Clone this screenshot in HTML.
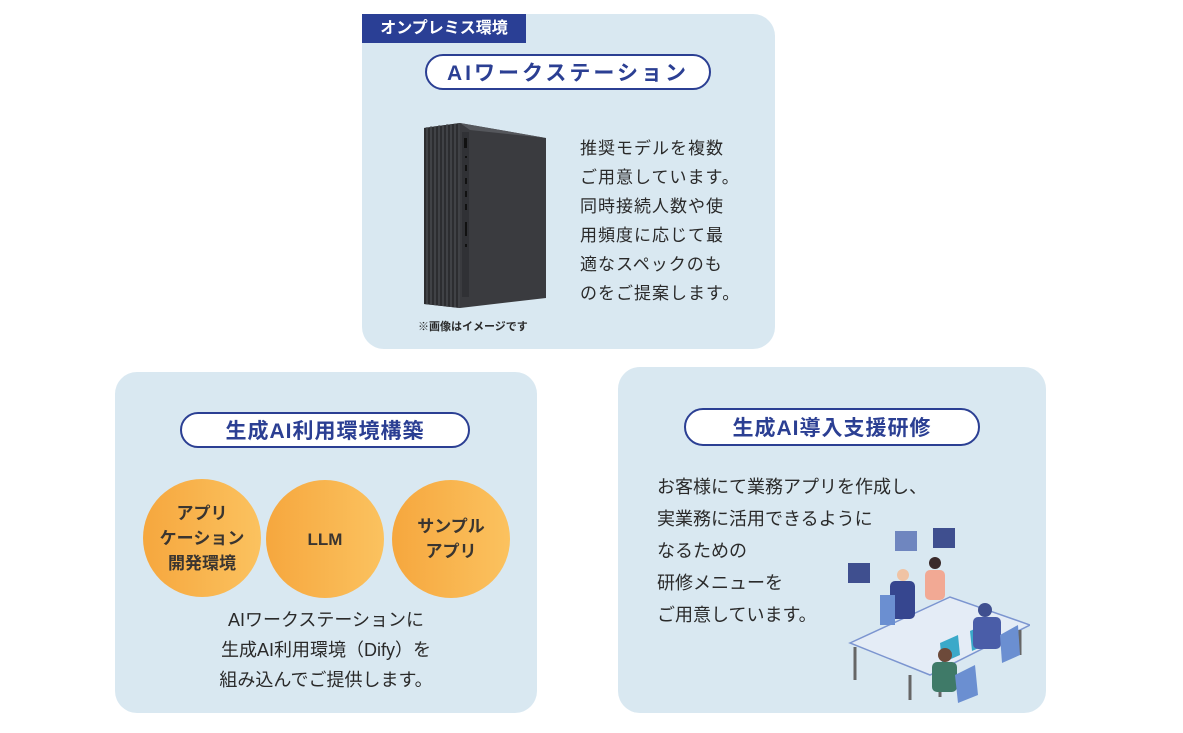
<!DOCTYPE html>
<html><head><meta charset="utf-8"><style>
*{margin:0;padding:0;box-sizing:border-box}
body{width:1183px;height:733px;background:#fff;position:relative;overflow:hidden;font-family:"Liberation Sans","Noto Sans CJK JP",sans-serif;color:#2a2a2a}
.p{position:absolute;background:#d9e8f1;border-radius:22px}
.pill{position:absolute;border:2px solid #2b3f93;background:#fff;border-radius:20px;color:#2b3f93;font-weight:bold;display:flex;align-items:center;justify-content:center;letter-spacing:1px}
.t{position:absolute;white-space:nowrap}
.c{position:absolute;width:118px;height:118px;border-radius:50%;background:linear-gradient(90deg,#f6a73e,#fbc25f);display:flex;align-items:center;justify-content:center;text-align:center;font-weight:bold;font-size:17px;line-height:25px;color:#3a3530}
</style></head><body>
<div class="p" style="left:362px;top:14px;width:413px;height:335px"></div>
<div class="t" style="left:362px;top:14px;width:164px;height:29px;background:#2a3f95;color:#fff;font-weight:bold;font-size:16px;line-height:29px;text-align:center">オンプレミス環境</div>
<div class="pill" style="left:425px;top:54px;width:286px;height:36px;font-size:21px;letter-spacing:3px">AIワークステーション</div>
<svg class="t" style="left:420px;top:120px" width="130" height="192">
<polygon points="4,8 40,3 126,18 126,178 40,188 4,184" fill="#3a3b3f"/>
<polygon points="4,8 40,3 40,188 4,184" fill="#2c2d30"/>
<g stroke="#55575c" stroke-width="1">
<line x1="7" y1="7" x2="7" y2="184"/><line x1="11" y1="6" x2="11" y2="185"/><line x1="15" y1="6" x2="15" y2="185"/><line x1="19" y1="5" x2="19" y2="186"/><line x1="23" y1="5" x2="23" y2="186"/><line x1="27" y1="4" x2="27" y2="187"/><line x1="31" y1="4" x2="31" y2="187"/><line x1="35" y1="4" x2="35" y2="187"/><line x1="39" y1="3" x2="39" y2="188"/></g>
<polygon points="40,3 126,18 50,10" fill="#55575c"/>
<rect x="42" y="12" width="7" height="165" fill="#303135"/>
<g fill="#111"><rect x="44" y="18" width="3" height="10"/><rect x="45" y="36" width="2" height="2"/><rect x="45" y="45" width="2" height="6"/><rect x="45" y="58" width="2" height="6"/><rect x="45" y="71" width="2" height="6"/><rect x="45" y="84" width="2" height="6"/><rect x="45" y="102" width="2" height="14"/><rect x="45" y="124" width="2" height="3"/></g>
</svg>
<div class="t" style="left:418px;top:318px;font-size:11px;font-weight:bold">※画像はイメージです</div>
<div class="t" style="left:580px;top:134px;font-size:17px;line-height:29px;letter-spacing:1px">推奨モデルを複数<br>ご用意しています。<br>同時接続人数や使<br>用頻度に応じて最<br>適なスペックのも<br>のをご提案します。</div>

<div class="p" style="left:115px;top:372px;width:422px;height:341px"></div>
<div class="pill" style="left:180px;top:412px;width:290px;height:36px;font-size:21px">生成AI利用環境構築</div>
<div class="c" style="left:143px;top:479px">アプリ<br>ケーション<br>開発環境</div>
<div class="c" style="left:266px;top:480px">LLM</div>
<div class="c" style="left:392px;top:480px">サンプル<br>アプリ</div>
<div class="t" style="left:115px;width:422px;top:605px;font-size:18px;line-height:30px;text-align:center">AIワークステーションに<br>生成AI利用環境（Dify）を<br>組み込んでご提供します。</div>

<div class="p" style="left:618px;top:367px;width:428px;height:346px"></div>
<div class="pill" style="left:684px;top:408px;width:296px;height:38px;font-size:21px">生成AI導入支援研修</div>
<div class="t" style="left:657px;top:471px;font-size:18px;line-height:32px">お客様にて業務アプリを作成し、<br>実業務に活用できるように<br>なるための<br>研修メニューを<br>ご用意しています。</div>
<svg class="t" style="left:840px;top:525px" width="190" height="180">
<g fill="#3f4f8f"><rect x="8" y="38" width="22" height="20"/><rect x="55" y="6" width="22" height="20" fill="#6f86bf"/><rect x="93" y="3" width="22" height="20"/></g>
<polygon points="10,118 110,72 190,100 90,150" fill="#e4ecf6" stroke="#7c95d0" stroke-width="1.5"/>
<g stroke="#666" stroke-width="3"><line x1="15" y1="122" x2="15" y2="155"/><line x1="70" y1="150" x2="70" y2="175"/><line x1="180" y1="105" x2="180" y2="130"/><line x1="100" y1="148" x2="100" y2="172"/></g>
<circle cx="63" cy="50" r="6" fill="#f0c3a4"/><rect x="50" y="56" width="25" height="38" rx="5" fill="#36468f"/>
<rect x="40" y="70" width="15" height="30" fill="#6b8fd1"/>
<circle cx="95" cy="38" r="6" fill="#3a2a2a"/><rect x="85" y="45" width="20" height="30" rx="5" fill="#f2a994"/>
<polygon points="100,118 118,110 120,130 102,138" fill="#3aa9c9"/>
<polygon points="130,106 148,98 150,118 132,126" fill="#3aa9c9"/>
<circle cx="105" cy="130" r="7" fill="#6d4a3a"/><rect x="92" y="137" width="25" height="30" rx="5" fill="#3f7a68"/>
<circle cx="145" cy="85" r="7" fill="#3f4f8f"/><rect x="133" y="92" width="28" height="32" rx="5" fill="#4a5da8"/>
<polygon points="115,150 135,140 138,170 118,178" fill="#6b8fd1"/>
<polygon points="160,110 178,100 180,130 162,138" fill="#6b8fd1"/>
</svg>
</body></html>
